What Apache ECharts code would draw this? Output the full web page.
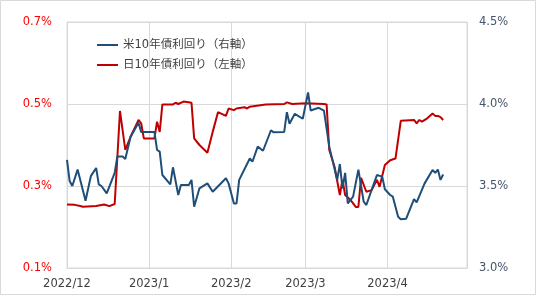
<!DOCTYPE html>
<html><head><meta charset="utf-8">
<script src="https://cdn.jsdelivr.net/npm/echarts@6/dist/echarts.min.js"></script>
<style>html,body{margin:0;padding:0;background:#fff}#c{width:540px;height:297px}</style>
</head><body><div id="c"></div>
<script>
// Series names
const usName = '米10年債利回り（右軸）';
const jpName = '日10年債利回り（左軸）';
// US 10Y (right axis, %)
const usDates = ['2022-12-01','2022-12-02','2022-12-03','2022-12-05','2022-12-08','2022-12-10','2022-12-12','2022-12-13','2022-12-14','2022-12-16','2022-12-19','2022-12-20','2022-12-22','2022-12-23','2022-12-25','2022-12-28','2022-12-29','2023-01-03','2023-01-04','2023-01-05','2023-01-06','2023-01-09','2023-01-10','2023-01-12','2023-01-13','2023-01-16','2023-01-17','2023-01-18','2023-01-20','2023-01-23','2023-01-25','2023-01-30','2023-01-31','2023-02-02','2023-02-03','2023-02-04','2023-02-08','2023-02-09','2023-02-11','2023-02-13','2023-02-16','2023-02-17','2023-02-21','2023-02-22','2023-02-23','2023-02-25','2023-02-28','2023-03-02','2023-03-03','2023-03-06','2023-03-08','2023-03-10','2023-03-13','2023-03-14','2023-03-15','2023-03-16','2023-03-17','2023-03-19','2023-03-21','2023-03-23','2023-03-24','2023-03-26','2023-03-28','2023-03-30','2023-03-31','2023-04-02','2023-04-03','2023-04-05','2023-04-06','2023-04-08','2023-04-11','2023-04-12','2023-04-15','2023-04-18','2023-04-19','2023-04-20','2023-04-21','2023-04-22'];
const usYield = [3.66,3.53,3.50,3.60,3.41,3.56,3.61,3.51,3.50,3.455,3.58,3.68,3.68,3.665,3.80,3.886,3.83,3.83,3.72,3.71,3.567,3.51,3.614,3.445,3.506,3.506,3.537,3.374,3.486,3.516,3.465,3.547,3.516,3.394,3.394,3.537,3.668,3.648,3.74,3.715,3.84,3.827,3.83,3.95,3.88,3.94,3.91,4.07,3.96,3.977,3.96,3.74,3.537,3.634,3.486,3.58,3.394,3.435,3.60,3.404,3.384,3.476,3.567,3.557,3.48,3.445,3.435,3.313,3.297,3.30,3.42,3.40,3.516,3.598,3.58,3.60,3.537,3.57];
// Japan 10Y (left axis, %)
const jpDates = ['2022-12-01','2022-12-04','2022-12-06','2022-12-07','2022-12-12','2022-12-15','2022-12-17','2022-12-19','2022-12-21','2022-12-23','2022-12-25','2022-12-28','2022-12-29','2022-12-30','2023-01-03','2023-01-04','2023-01-05','2023-01-06','2023-01-10','2023-01-11','2023-01-12','2023-01-14','2023-01-17','2023-01-18','2023-01-20','2023-01-23','2023-01-25','2023-01-27','2023-01-30','2023-01-31','2023-02-02','2023-02-03','2023-02-06','2023-02-07','2023-02-08','2023-02-14','2023-02-21','2023-02-22','2023-02-24','2023-03-01','2023-03-08','2023-03-09','2023-03-10','2023-03-12','2023-03-14','2023-03-15','2023-03-16','2023-03-18','2023-03-20','2023-03-21','2023-03-22','2023-03-24','2023-03-26','2023-03-28','2023-03-29','2023-03-31','2023-04-02','2023-04-04','2023-04-06','2023-04-11','2023-04-12','2023-04-13','2023-04-14','2023-04-16','2023-04-18','2023-04-19','2023-04-20','2023-04-21','2023-04-22'];
const jpYield = [0.255,0.254,0.251,0.2495,0.251,0.255,0.251,0.256,0.483,0.388,0.42,0.461,0.453,0.416,0.416,0.457,0.432,0.499,0.499,0.503,0.50,0.506,0.503,0.416,0.40,0.381,0.432,0.48,0.471,0.489,0.485,0.489,0.492,0.489,0.4935,0.499,0.50,0.504,0.50,0.502,0.50,0.499,0.388,0.347,0.278,0.315,0.278,0.266,0.249,0.249,0.32,0.286,0.29,0.315,0.298,0.351,0.363,0.367,0.459,0.461,0.453,0.461,0.457,0.465,0.477,0.471,0.471,0.468,0.461];
// Axis settings
const xStart = '2022-12-01', xEnd = '2023-05-01';
const leftTicks = [0.1, 0.7, 0.2];   // min, max, interval
const rightTicks = [3.0, 4.5, 0.5];

// Build daily category list
function pad(n){return n<10?'0'+n:''+n;}
const days = [];
{
  let d = new Date(xStart+'T00:00:00Z'); const e = new Date(xEnd+'T00:00:00Z');
  while (d <= e) { days.push(d.getUTCFullYear()+'-'+pad(d.getUTCMonth()+1)+'-'+pad(d.getUTCDate())); d = new Date(d.getTime()+86400000); }
}
const toPts = (ds, vs) => ds.map((s,i)=>[days.indexOf(s), vs[i]]);
const isMonthStart = (v) => v.endsWith('-01');

const font = "'DejaVu Sans', 'Noto Sans CJK JP', sans-serif";
const chart = echarts.init(document.getElementById('c'), null, {renderer:'canvas'});
chart.setOption({
  animation: false,
  backgroundColor: '#fff',
  graphic: [{type:'rect', shape:{x:0.5,y:0.5,width:535,height:294}, style:{fill:'none', stroke:'#d9d9d9', lineWidth:1}, silent:true, z:-1}],
  grid: {left:67, right:73, top:22, bottom:29, show:true, borderColor:'#d9d9d9', borderWidth:1},
  legend: {
    orient:'vertical', left:92, top:33, itemWidth:21, itemHeight:2, itemGap:6, icon:'rect',
    textStyle:{fontFamily:font, fontSize:11.5, color:'#404040', lineHeight:14},
    data:[usName, jpName]
  },
  xAxis: {
    type:'category', data:days, boundaryGap:false,
    axisLine:{show:true, lineStyle:{color:'#d9d9d9'}},
    axisTick:{show:false},
    axisLabel:{
      interval:(i,v)=> isMonthStart(v) && i < days.length-1,
      formatter:(v)=>{const p=v.split('-'); return p[0]+'/'+parseInt(p[1],10);},
      color:'#404040', fontFamily:font, fontSize:11.5, margin:10
    },
    splitLine:{show:true, interval:(i,v)=>isMonthStart(v), lineStyle:{color:'#d9d9d9'}}
  },
  yAxis: [
    {type:'value', min:leftTicks[0], max:leftTicks[1], interval:leftTicks[2], position:'left',
     axisLine:{show:false}, axisTick:{show:false},
     axisLabel:{formatter:(v)=>v.toFixed(1)+'%', color:'#ff0000', fontFamily:font, fontSize:11.5, margin:15},
     splitLine:{show:true, lineStyle:{color:'#d9d9d9'}}},
    {type:'value', min:rightTicks[0], max:rightTicks[1], interval:rightTicks[2], position:'right',
     axisLine:{show:false}, axisTick:{show:false},
     axisLabel:{formatter:(v)=>v.toFixed(1)+'%', color:'#44546a', fontFamily:font, fontSize:11.5, margin:12},
     splitLine:{show:false}}
  ],
  series: [
    {name:usName, type:'line', yAxisIndex:1, data:toPts(usDates, usYield), showSymbol:false, symbol:'none',
     lineStyle:{color:'#1f4e79', width:2}, itemStyle:{color:'#1f4e79'}, z:3},
    {name:jpName, type:'line', yAxisIndex:0, data:toPts(jpDates, jpYield), showSymbol:false, symbol:'none',
     lineStyle:{color:'#c00000', width:2}, itemStyle:{color:'#c00000'}, z:2}
  ]
});
</script></body></html>
